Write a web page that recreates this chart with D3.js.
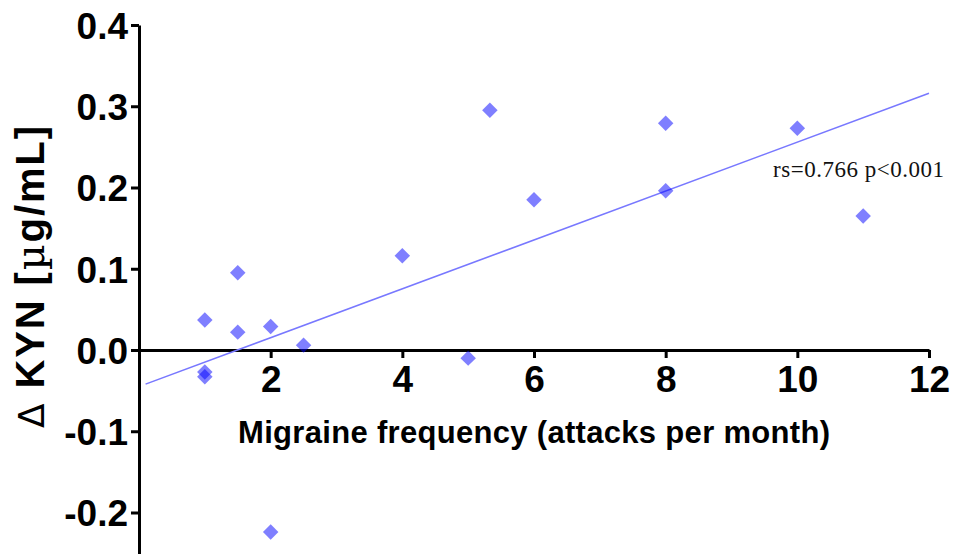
<!DOCTYPE html>
<html>
<head>
<meta charset="utf-8">
<script src="https://cdn.jsdelivr.net/npm/d3@7"></script>
<style>
  body { margin: 0; background: #fff; }
  svg { display: block; }
</style>
</head>
<body>
<script>
// attacks per month vs change in KYN
var freq = [1, 1, 1, 1.5, 1.5, 2, 2, 2.5, 4, 5, 5.33, 6, 8, 8, 10, 11];
var dKyn = [0.037, -0.027, -0.033, 0.095, 0.022, 0.029, -0.224, 0.006, 0.116, -0.010, 0.295, 0.185, 0.279, 0.196, 0.273, 0.165];
// regression line end points
var fitX = [0.1, 12];
var fitY = [-0.042, 0.316];
var xTicks = [2, 4, 6, 8, 10, 12];
var yTicks = [-0.2, -0.1, 0.0, 0.1, 0.2, 0.3, 0.4];
var statText = "rs=0.766 p<0.001";

var width = 955, height = 554;

var svg = d3.select("body").append("svg")
    .attr("width", width)
    .attr("height", height);

var x = d3.scaleLinear().domain([0, 12]).range([139, 929]);
var y = d3.scaleLinear().domain([0, 0.4]).range([350, 25]);

var fmt = d3.format(".1f");

// y axis, runs off the bottom
var yAxis = svg.append("g")
    .attr("transform", "translate(" + x(0) + ",0)")
    .call(d3.axisLeft(y.copy().domain([-0.27, 0.4]).range([y(-0.27), y(0.4)]))
      .tickValues(yTicks)
      .tickFormat(function(d) { return fmt(d).replace("\u2212", "-"); })
      .tickSize(8)
      .tickSizeOuter(0)
      .tickPadding(3));

var xAxis = svg.append("g")
    .attr("transform", "translate(0," + y(0) + ")")
    .call(d3.axisBottom(x)
      .tickValues(xTicks)
      .tickFormat(d3.format("d"))
      .tickSize(8)
      .tickSizeOuter(0)
      .tickPadding(8));

[xAxis, yAxis].forEach(function(g) {
  g.select(".domain").attr("stroke", "#000").attr("stroke-width", 3);
  g.selectAll(".tick line").attr("stroke", "#000").attr("stroke-width", 3);
  g.selectAll(".tick text")
    .attr("fill", "#000")
    .style("font-family", "Liberation Sans, Arial, sans-serif")
    .style("font-weight", "bold")
    .style("font-size", "37px");
});
yAxis.selectAll(".tick text").attr("dy", "0.36em");

// fit line
svg.append("line")
    .attr("x1", x(fitX[0])).attr("y1", y(fitY[0]))
    .attr("x2", x(fitX[1])).attr("y2", y(fitY[1]))
    .attr("stroke", "#7878ff")
    .attr("stroke-width", 1.6);

// diamonds
var sym = d3.symbol().type(d3.symbolSquare).size(120);
svg.append("g")
  .selectAll("path")
  .data(d3.range(freq.length))
  .enter().append("path")
    .attr("d", sym)
    .attr("transform", function(i) {
      return "translate(" + x(freq[i]) + "," + y(dKyn[i]) + ") rotate(45)";
    })
    .attr("fill", "#0000ff")
    .attr("fill-opacity", 0.5);

// stats
svg.append("text")
    .attr("x", 773).attr("y", 177)
    .attr("textLength", 171)
    .style("font-family", "Liberation Serif, serif")
    .style("font-size", "23px")
    .attr("fill", "#111")
    .text(statText);

// x title
svg.append("text")
    .attr("x", 238).attr("y", 443)
    .attr("textLength", 592)
    .style("font-family", "Liberation Sans, Arial, sans-serif")
    .style("font-weight", "bold")
    .style("font-size", "31px")
    .text("Migraine frequency (attacks per month)");

// y title
var yt = svg.append("text")
    .attr("transform", "translate(44,277) rotate(-90)")
    .attr("text-anchor", "middle")
    .attr("textLength", 302)
    .style("font-family", "Liberation Sans, Arial, sans-serif")
    .style("font-weight", "bold")
    .style("font-size", "40px");
yt.append("tspan").style("font-weight", "normal").style("font-family", "DejaVu Sans, sans-serif").style("font-size", "36px").text("\u0394");
yt.append("tspan").text(" KYN [");
yt.append("tspan").style("font-weight", "normal").style("font-family", "DejaVu Serif, serif").text("\u00b5");
yt.append("tspan").text("g/mL]");
</script>
</body>
</html>
